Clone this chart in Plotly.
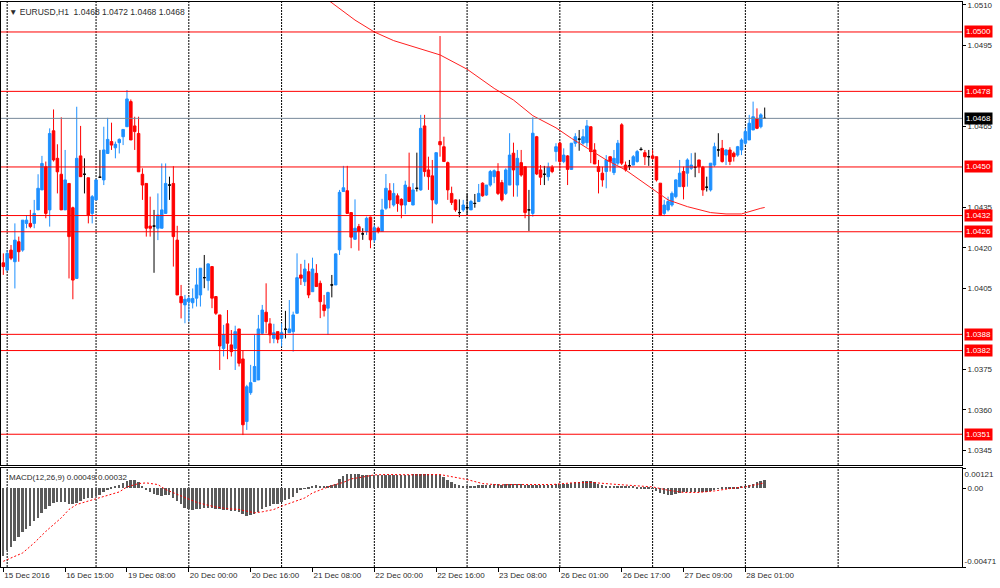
import plotly.graph_objects as go

# ---------------- data (EURUSD H1) ----------------
opens = [
    1.04145, 1.04118, 1.04192, 1.04149, 1.04223, 1.04192, 1.04291, 1.04291, 1.04291, 1.04341,
    1.04415, 1.04501, 1.04341, 1.04634, 1.04532, 1.04473, 1.04341, 1.04439, 1.04349, 1.04087,
    1.04541, 1.04473, 1.04460, 1.04328, 1.04378, 1.04462, 1.04452, 1.04550, 1.04594, 1.04571,
    1.04590, 1.04612, 1.04649, 1.04742, 1.04652, 1.04624, 1.04473, 1.04439, 1.04281, 1.04281,
    1.04273, 1.04273, 1.04328, 1.04433, 1.04439, 1.04229, 1.04020, 1.03989, 1.04001, 1.03997,
    1.04014, 1.04026, 1.04090, 1.04079, 1.04131, 1.04020, 1.03952, 1.03828, 1.03919, 1.03841,
    1.03828, 1.03900, 1.03789, 1.03557, 1.03664, 1.03705, 1.03711, 1.03884, 1.03962, 1.03919,
    1.03865, 1.03890, 1.03865, 1.03899, 1.03886, 1.03890, 1.03958, 1.04100, 1.04075, 1.04112,
    1.04038, 1.04106, 1.04069, 1.03989, 1.03977, 1.04063, 1.04063, 1.04193, 1.04409, 1.04412,
    1.04331, 1.04232, 1.04279, 1.04252, 1.04261, 1.04314, 1.04230, 1.04273, 1.04261, 1.04347,
    1.04412, 1.04359, 1.04393, 1.04380, 1.04359, 1.04425, 1.04359, 1.04421, 1.04415, 1.04652,
    1.04489, 1.04467, 1.04365, 1.04594, 1.04575, 1.04516, 1.04402, 1.04378, 1.04331, 1.04341,
    1.04349, 1.04341, 1.04365, 1.04372, 1.04440, 1.04396, 1.04433, 1.04464, 1.04483, 1.04442,
    1.04402, 1.04433, 1.04551, 1.04433, 1.04516, 1.04501, 1.04341, 1.04328, 1.04612, 1.04489,
    1.04473, 1.04464, 1.04499, 1.04557, 1.04588, 1.04520, 1.04541, 1.04491, 1.04588, 1.04603,
    1.04588, 1.04590, 1.04649, 1.04563, 1.04501, 1.04477, 1.04483, 1.04538, 1.04479, 1.04514,
    1.04656, 1.04507, 1.04504, 1.04507, 1.04520, 1.04565, 1.04553, 1.04538, 1.04541, 1.04538,
    1.04440, 1.04328, 1.04341, 1.04359, 1.04390, 1.04427, 1.04483, 1.04477, 1.04495, 1.04499,
    1.04526, 1.04499, 1.04425, 1.04415, 1.04507, 1.04563, 1.04569, 1.04544, 1.04563, 1.04551,
    1.04544, 1.04563, 1.04588, 1.04600, 1.04637, 1.04680, 1.04649, 1.04680,
]
highs = [
    1.04180, 1.04192, 1.04211, 1.04291, 1.04242, 1.04303, 1.04322, 1.04341, 1.04378, 1.04473,
    1.04541, 1.04520, 1.04643, 1.04713, 1.04584, 1.04684, 1.04563, 1.04439, 1.04353, 1.04723,
    1.04652, 1.04532, 1.04460, 1.04396, 1.04452, 1.04563, 1.04649, 1.04682, 1.04664, 1.04594,
    1.04606, 1.04639, 1.04785, 1.04750, 1.04686, 1.04686, 1.04495, 1.04439, 1.04390, 1.04341,
    1.04402, 1.04513, 1.04513, 1.04464, 1.04503, 1.04282, 1.04063, 1.04026, 1.04020, 1.04050,
    1.04125, 1.04125, 1.04174, 1.04143, 1.04131, 1.04020, 1.03952, 1.03915, 1.03970, 1.03896,
    1.03912, 1.03900, 1.03822, 1.03693, 1.03767, 1.03878, 1.03952, 1.03989, 1.04069, 1.03940,
    1.03919, 1.03890, 1.03921, 1.03967, 1.04007, 1.03964, 1.04180, 1.04141, 1.04156, 1.04143,
    1.04164, 1.04140, 1.04079, 1.04026, 1.04038, 1.04100, 1.04180, 1.04415, 1.04504, 1.04504,
    1.04331, 1.04380, 1.04289, 1.04273, 1.04316, 1.04316, 1.04285, 1.04279, 1.04382, 1.04474,
    1.04440, 1.04440, 1.04402, 1.04384, 1.04449, 1.04553, 1.04440, 1.04553, 1.04693, 1.04693,
    1.04538, 1.04526, 1.04553, 1.04985, 1.04612, 1.04520, 1.04427, 1.04380, 1.04380, 1.04378,
    1.04402, 1.04378, 1.04400, 1.04437, 1.04443, 1.04433, 1.04489, 1.04491, 1.04514, 1.04452,
    1.04495, 1.04625, 1.04590, 1.04563, 1.04563, 1.04501, 1.04415, 1.04684, 1.04615, 1.04507,
    1.04504, 1.04516, 1.04507, 1.04588, 1.04594, 1.04569, 1.04544, 1.04588, 1.04625, 1.04637,
    1.04640, 1.04674, 1.04649, 1.04588, 1.04526, 1.04501, 1.04544, 1.04538, 1.04563, 1.04600,
    1.04662, 1.04520, 1.04526, 1.04544, 1.04563, 1.04573, 1.04563, 1.04563, 1.04563, 1.04538,
    1.04440, 1.04378, 1.04390, 1.04409, 1.04454, 1.04526, 1.04501, 1.04532, 1.04551, 1.04553,
    1.04526, 1.04504, 1.04464, 1.04514, 1.04590, 1.04625, 1.04600, 1.04565, 1.04573, 1.04557,
    1.04578, 1.04606, 1.04643, 1.04693, 1.04742, 1.04717, 1.04699, 1.04720,
]
lows = [
    1.04100, 1.04115, 1.04155, 1.04050, 1.04149, 1.04186, 1.04273, 1.04273, 1.04273, 1.04341,
    1.04415, 1.04310, 1.04279, 1.04520, 1.04402, 1.04341, 1.04341, 1.04087, 1.04010, 1.04087,
    1.04464, 1.04402, 1.04291, 1.04291, 1.04378, 1.04460, 1.04433, 1.04550, 1.04563, 1.04532,
    1.04550, 1.04581, 1.04649, 1.04600, 1.04563, 1.04482, 1.04378, 1.04242, 1.04242, 1.04108,
    1.04229, 1.04273, 1.04328, 1.04378, 1.04131, 1.04026, 1.03939, 1.03921, 1.03927, 1.03976,
    1.03983, 1.03983, 1.04051, 1.04042, 1.03977, 1.03952, 1.03748, 1.03798, 1.03788, 1.03798,
    1.03748, 1.03761, 1.03507, 1.03526, 1.03656, 1.03705, 1.03711, 1.03878, 1.03884, 1.03847,
    1.03847, 1.03847, 1.03835, 1.03865, 1.03886, 1.03816, 1.03958, 1.04063, 1.04059, 1.04014,
    1.04038, 1.04057, 1.03940, 1.03946, 1.03878, 1.04017, 1.04063, 1.04174, 1.04409, 1.04328,
    1.04199, 1.04230, 1.04190, 1.04230, 1.04248, 1.04199, 1.04220, 1.04254, 1.04261, 1.04341,
    1.04347, 1.04353, 1.04334, 1.04310, 1.04325, 1.04372, 1.04359, 1.04409, 1.04412, 1.04464,
    1.04415, 1.04291, 1.04359, 1.04538, 1.04520, 1.04378, 1.04359, 1.04334, 1.04314, 1.04334,
    1.04322, 1.04341, 1.04349, 1.04372, 1.04390, 1.04393, 1.04427, 1.04440, 1.04396, 1.04372,
    1.04396, 1.04433, 1.04390, 1.04390, 1.04464, 1.04310, 1.04263, 1.04316, 1.04470, 1.04433,
    1.04433, 1.04449, 1.04477, 1.04520, 1.04491, 1.04514, 1.04433, 1.04489, 1.04575, 1.04560,
    1.04582, 1.04575, 1.04514, 1.04511, 1.04402, 1.04427, 1.04421, 1.04483, 1.04470, 1.04507,
    1.04507, 1.04483, 1.04489, 1.04507, 1.04516, 1.04560, 1.04507, 1.04504, 1.04526, 1.04446,
    1.04318, 1.04318, 1.04335, 1.04353, 1.04384, 1.04427, 1.04380, 1.04427, 1.04489, 1.04462,
    1.04477, 1.04393, 1.04409, 1.04409, 1.04501, 1.04538, 1.04516, 1.04507, 1.04507, 1.04520,
    1.04538, 1.04544, 1.04582, 1.04600, 1.04637, 1.04640, 1.04643, 1.04680,
]
closes = [
    1.04131, 1.04180, 1.04162, 1.04229, 1.04186, 1.04303, 1.04303, 1.04279, 1.04328, 1.04421,
    1.04513, 1.04328, 1.04624, 1.04526, 1.04482, 1.04341, 1.04452, 1.04242, 1.04081, 1.04532,
    1.04464, 1.04473, 1.04322, 1.04390, 1.04452, 1.04462, 1.04563, 1.04602, 1.04581, 1.04584,
    1.04602, 1.04639, 1.04752, 1.04600, 1.04631, 1.04482, 1.04433, 1.04273, 1.04273, 1.04281,
    1.04322, 1.04341, 1.04439, 1.04433, 1.04242, 1.04026, 1.03997, 1.04010, 1.04013, 1.04013,
    1.04063, 1.04125, 1.04090, 1.04141, 1.04014, 1.03958, 1.03837, 1.03878, 1.03847, 1.03816,
    1.03890, 1.03773, 1.03545, 1.03686, 1.03701, 1.03761, 1.03900, 1.03970, 1.03927, 1.03878,
    1.03886, 1.03862, 1.03886, 1.03899, 1.03900, 1.03952, 1.04090, 1.04088, 1.04122, 1.04026,
    1.04122, 1.04057, 1.04001, 1.03968, 1.04035, 1.04063, 1.04178, 1.04406, 1.04423, 1.04328,
    1.04240, 1.04273, 1.04261, 1.04252, 1.04310, 1.04230, 1.04275, 1.04261, 1.04341, 1.04421,
    1.04378, 1.04402, 1.04365, 1.04359, 1.04433, 1.04372, 1.04415, 1.04421, 1.04643, 1.04483,
    1.04464, 1.04378, 1.04553, 1.04582, 1.04520, 1.04415, 1.04368, 1.04341, 1.04331, 1.04359,
    1.04349, 1.04372, 1.04365, 1.04402, 1.04393, 1.04433, 1.04483, 1.04486, 1.04402, 1.04378,
    1.04489, 1.04544, 1.04489, 1.04532, 1.04470, 1.04331, 1.04341, 1.04625, 1.04474, 1.04462,
    1.04473, 1.04499, 1.04483, 1.04575, 1.04520, 1.04544, 1.04491, 1.04588, 1.04612, 1.04603,
    1.04612, 1.04652, 1.04557, 1.04511, 1.04483, 1.04452, 1.04526, 1.04520, 1.04532, 1.04588,
    1.04514, 1.04489, 1.04504, 1.04538, 1.04557, 1.04565, 1.04538, 1.04538, 1.04532, 1.04452,
    1.04322, 1.04359, 1.04372, 1.04402, 1.04452, 1.04477, 1.04427, 1.04526, 1.04507, 1.04499,
    1.04501, 1.04415, 1.04425, 1.04514, 1.04575, 1.04563, 1.04520, 1.04563, 1.04520, 1.04538,
    1.04575, 1.04600, 1.04631, 1.04662, 1.04686, 1.04643, 1.04693, 1.04680,
]

# moving average (red line), read at selected bars
ma_idx = [82, 91, 96, 101, 113, 120, 127, 132, 137, 141, 143, 147, 152, 156, 161, 167, 172, 177, 183, 187, 191, 196, 197]
ma_val = [1.05140, 1.05044, 1.05000, 1.04968, 1.04915, 1.04862, 1.04791, 1.04748, 1.04690, 1.04660,
          1.04645, 1.04606, 1.04563, 1.04526, 1.04489, 1.04427, 1.04378, 1.04353, 1.04331, 1.04326,
          1.04326, 1.04347, 1.04350]

# MACD(12,26,9) main (histogram), one value per bar
macd_hist = [
    -0.00407, -0.00367, -0.00350, -0.00317, -0.00291, -0.00263, -0.00243, -0.00223, -0.00197, -0.00177,
    -0.00151, -0.00124, -0.00107, -0.00087, -0.00084, -0.00082, -0.00082, -0.00094, -0.00097, -0.00087,
    -0.00077, -0.00064, -0.00060, -0.00058, -0.00048, -0.00038, -0.00024, -0.00012, 0.00004, 0.00012,
    0.00020, 0.00032, 0.00044, 0.00052, 0.00050, 0.00035, 0.00012, -0.00012, -0.00024, -0.00032,
    -0.00042, -0.00044, -0.00040, -0.00040, -0.00058, -0.00077, -0.00097, -0.00117, -0.00127, -0.00132,
    -0.00127, -0.00124, -0.00117, -0.00117, -0.00117, -0.00124, -0.00127, -0.00132, -0.00132, -0.00134,
    -0.00137, -0.00141, -0.00157, -0.00164, -0.00161, -0.00157, -0.00144, -0.00127, -0.00112, -0.00104,
    -0.00097, -0.00092, -0.00084, -0.00072, -0.00064, -0.00052, -0.00028, -0.00012, -0.00004, 0.00006,
    0.00016, 0.00018, 0.00016, 0.00012, 0.00016, 0.00022, 0.00028, 0.00056, 0.00076, 0.00087,
    0.00087, 0.00087, 0.00084, 0.00082, 0.00082, 0.00082, 0.00082, 0.00080, 0.00080, 0.00082,
    0.00080, 0.00080, 0.00082, 0.00077, 0.00080, 0.00082, 0.00084, 0.00087, 0.00087, 0.00084,
    0.00084, 0.00084, 0.00082, 0.00080, 0.00067, 0.00052, 0.00038, 0.00028, 0.00020, 0.00016,
    0.00014, 0.00014, 0.00016, 0.00018, 0.00018, 0.00020, 0.00022, 0.00024, 0.00024, 0.00022,
    0.00024, 0.00028, 0.00028, 0.00025, 0.00024, 0.00020, 0.00018, 0.00022, 0.00022, 0.00020,
    0.00020, 0.00022, 0.00022, 0.00025, 0.00028, 0.00028, 0.00028, 0.00032, 0.00035, 0.00038,
    0.00042, 0.00044, 0.00042, 0.00035, 0.00028, 0.00020, 0.00016, 0.00014, 0.00014, 0.00016,
    0.00016, 0.00014, 0.00012, 0.00012, 0.00010, 0.00008, 0.00008, 0.00006, -0.00004, -0.00016,
    -0.00028, -0.00035, -0.00040, -0.00040, -0.00032, -0.00028, -0.00024, -0.00024, -0.00022, -0.00020,
    -0.00020, -0.00024, -0.00022, -0.00016, -0.00008, -0.00004, 0.00002, 0.00004, 0.00004, 0.00002,
    0.00008, 0.00012, 0.00016, 0.00022, 0.00028, 0.00040, 0.00045, 0.00049,
]
# MACD signal line, read at selected bars
sig_idx = [0, 2, 5, 8, 11, 15, 17, 19, 22, 24, 27, 30, 32, 35, 37, 40, 42, 45, 48, 50,
           53, 55, 58, 61, 63, 65, 67, 70, 72, 75, 78, 80, 83, 85, 88, 90, 93, 96, 99, 102,
           108, 113, 117, 120, 124, 128, 132, 137, 142, 147, 152, 158, 164, 168, 172, 176, 180, 184, 188, 192,
           196, 197]
sig_val = [-0.00437, -0.00417, -0.00387, -0.00327, -0.00258, -0.00177, -0.00127, -0.00097, -0.00077, -0.00064,
           -0.00044, -0.00022, 0.00008, 0.00028, 0.00032, 0.00022, -0.00008, -0.00038, -0.00064, -0.00084,
           -0.00102, -0.00112, -0.00122, -0.00127, -0.00137, -0.00147, -0.00141, -0.00127, -0.00107, -0.00084,
           -0.00058, -0.00028, -0.00004, 0.00016, 0.00035, 0.00056, 0.00067, 0.00080, 0.00082, 0.00080,
           0.00080, 0.00082, 0.00067, 0.00052, 0.00028, 0.00020, 0.00022, 0.00024, 0.00022, 0.00032,
           0.00035, 0.00024, 0.00012, 0.00008, -0.00012, -0.00025, -0.00025, -0.00016, -0.00002, 0.00008,
           0.00028, 0.00032]

time_labels = ["15 Dec 2016", "16 Dec 15:00", "19 Dec 08:00", "20 Dec 00:00", "20 Dec 16:00",
               "21 Dec 08:00", "22 Dec 00:00", "22 Dec 16:00", "23 Dec 08:00", "26 Dec 01:00",
               "26 Dec 17:00", "27 Dec 09:00", "28 Dec 01:00"]
label_step = 16
grid_bars = [1, 24, 48, 72, 96, 120, 144, 168, 192, 216]

# price scale labels (those hidden behind level tags are left out)
price_ticks = [1.0510, 1.0495, 1.0465, 1.0435, 1.0420, 1.0405, 1.0375, 1.0360, 1.0345]
levels = [1.0500, 1.0478, 1.0450, 1.0432, 1.0426, 1.0388, 1.0382, 1.0351]
bid = 1.0468
macd_top, macd_bottom = 0.00121, -0.00471

symbol = "EURUSD,H1"
macd_name = "MACD(12,26,9)"

# ---------------- figure ----------------
FONT = "Liberation Sans"
TXT = "#2b2b2b"
N = len(closes)
idx = list(range(N))

bull = [i for i in idx if closes[i] > opens[i]]
bear = [i for i in idx if closes[i] < opens[i]]
doji = [i for i in idx if closes[i] == opens[i]]


def candles(sel, color):
    side = dict(line=dict(color=color, width=1), fillcolor=color)
    return go.Candlestick(
        x=sel,
        open=[opens[i] for i in sel], high=[highs[i] for i in sel],
        low=[lows[i] for i in sel], close=[closes[i] for i in sel],
        increasing=side, decreasing=side, whiskerwidth=0,
        xaxis="x", yaxis="y", showlegend=False, hoverinfo="skip",
    )


fig = go.Figure()
fig.add_trace(candles(bull, "#1E90FF"))
fig.add_trace(candles(bear, "#FF0000"))
fig.add_trace(candles(doji, "#000000"))
fig.add_trace(go.Scatter(x=ma_idx, y=ma_val, mode="lines", line=dict(color="#ff2020", width=1),
                         xaxis="x", yaxis="y", showlegend=False, hoverinfo="skip"))

fig.add_trace(go.Bar(x=idx, y=macd_hist, width=0.5, marker=dict(color="#5a5a5a", line=dict(width=0)),
                     xaxis="x2", yaxis="y2", showlegend=False, hoverinfo="skip"))
fig.add_trace(go.Scatter(x=sig_idx, y=sig_val, mode="lines",
                         line=dict(color="#ff0000", width=1, dash="2px,2px"),
                         xaxis="x2", yaxis="y2", showlegend=False, hoverinfo="skip"))
# carriers for the extra MACD label axes
fig.add_trace(go.Scatter(x=[0], y=[0], mode="markers", marker=dict(opacity=0), xaxis="x2", yaxis="y3",
                         showlegend=False, hoverinfo="skip"))
fig.add_trace(go.Scatter(x=[0], y=[0], mode="markers", marker=dict(opacity=0), xaxis="x2", yaxis="y4",
                         showlegend=False, hoverinfo="skip"))

X_RANGE = [-0.595, 248.05]
Y_RANGE = [1.03396, 1.05111]
M_RANGE = [macd_bottom, macd_top]
MAIN_DOM = [0.1805, 1.0]
MACD_DOM = [0.0, 0.1752]

tickfont = dict(family=FONT, size=8, color=TXT)
border = dict(showline=True, mirror=True, linecolor="black", linewidth=1, zeroline=False, showgrid=False)

fig.update_layout(
    width=1000, height=588,
    margin=dict(l=1, r=38, t=2, b=21),
    paper_bgcolor="white", plot_bgcolor="white",
    showlegend=False, boxgap=0.35, boxgroupgap=0.0, bargap=0,
    font=dict(family=FONT, size=8, color=TXT),
    xaxis=dict(domain=[0, 1], anchor="y", range=X_RANGE, showticklabels=False, ticks="",
               rangeslider=dict(visible=False), **border),
    yaxis=dict(domain=MAIN_DOM, anchor="x", side="right", range=Y_RANGE,
               tickvals=price_ticks, tickformat=".4f", ticks="outside", ticklen=3,
               tickcolor="black", tickfont=tickfont, **border),
    xaxis2=dict(domain=[0, 1], anchor="y2", range=X_RANGE,
                tickvals=[k * label_step for k in range(len(time_labels))], ticktext=time_labels,
                ticklabelposition="outside right", ticks="outside", ticklen=4, tickcolor="black",
                tickfont=tickfont, rangeslider=dict(visible=False), **border),
    yaxis2=dict(domain=MACD_DOM, anchor="x2", side="right", range=M_RANGE,
                tickvals=[0], ticktext=["0.00"], ticks="outside", ticklen=3, tickcolor="black",
                tickfont=tickfont, **border),
    yaxis3=dict(overlaying="y2", anchor="x2", side="right", range=M_RANGE,
                tickvals=[macd_top], ticktext=[f"{macd_top:.5f}"], ticklabelposition="outside bottom",
                ticks="outside", ticklen=3, tickcolor="black", tickfont=tickfont,
                showgrid=False, zeroline=False, showline=False),
    yaxis4=dict(overlaying="y2", anchor="x2", side="right", range=M_RANGE,
                tickvals=[macd_bottom], ticktext=[f"{macd_bottom:.5f}"], ticklabelposition="outside top",
                ticks="outside", ticklen=3, tickcolor="black", tickfont=tickfont,
                showgrid=False, zeroline=False, showline=False),
)

shapes = []
for g in grid_bars:
    for yref in ("y domain", "y2 domain"):
        shapes.append(dict(type="line", xref="x", yref=yref, x0=g, x1=g, y0=0, y1=1, layer="below",
                           line=dict(color="black", width=1, dash="2px,1px")))
for lv in levels:
    shapes.append(dict(type="line", xref="x domain", yref="y", x0=0, x1=1, y0=lv, y1=lv, layer="above",
                       line=dict(color="#ff0000", width=1)))
shapes.append(dict(type="line", xref="x domain", yref="y", x0=0, x1=1, y0=bid, y1=bid, layer="above",
                   line=dict(color="#778899", width=1)))
fig.update_layout(shapes=shapes)

annotations = []
for lv in levels:
    annotations.append(dict(xref="paper", yref="y", x=1, y=lv, xanchor="left", yanchor="middle", xshift=2,
                            text=f"{lv:.4f}", showarrow=False, bgcolor="#ff0000", borderpad=1,
                            font=dict(family=FONT, size=8, color="white")))
annotations.append(dict(xref="paper", yref="y", x=1, y=bid, xanchor="left", yanchor="middle", xshift=2,
                        text=f"{bid:.4f}", showarrow=False, bgcolor="#000000", borderpad=1,
                        font=dict(family=FONT, size=8, color="white")))
header = ("\u25BC\u00a0" + symbol + "\u00a0\u00a0" +
          f"{opens[-1]:.4f}\u00a0{highs[-1]:.4f}\u00a0{lows[-1]:.4f}\u00a0{closes[-1]:.4f}")
annotations.append(dict(xref="paper", yref="paper", x=0, y=1, xanchor="left", yanchor="top",
                        xshift=6, yshift=-3, text=header, showarrow=False,
                        font=dict(family=FONT, size=8.5, color=TXT)))
macd_text = f"{macd_name}\u00a0{macd_hist[-1]:.5f}\u00a0{sig_val[-1]:.5f}"
annotations.append(dict(xref="paper", yref="y2 domain", x=0, y=1, xanchor="left", yanchor="top",
                        xshift=6, yshift=-3, text=macd_text, showarrow=False,
                        font=dict(family=FONT, size=8, color=TXT)))
fig.update_layout(annotations=annotations)

fig.write_html("out.html", config={"displayModeBar": False},
               post_script="document.body.style.margin='0';document.body.style.overflow='hidden';")
